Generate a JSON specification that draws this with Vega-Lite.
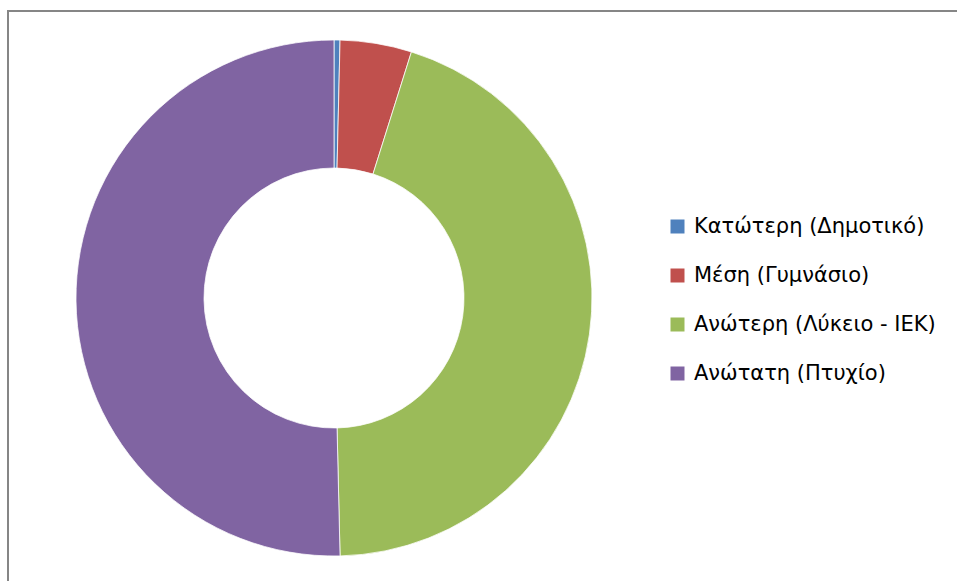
{
  "$schema": "https://vega.github.io/schema/vega-lite/v6.json",
  "padding": {"left": 7, "top": 9, "right": 0, "bottom": 0},
  "background": "white",
  "spacing": 0,
  "bounds": "flush",
  "data": {
    "values": [
      {"level": "Κατώτερη (Δημοτικό)", "count": 1},
      {"level": "Μέση (Γυμνάσιο)", "count": 12},
      {"level": "Ανώτερη (Λύκειο - ΙΕΚ)", "count": 120},
      {"level": "Ανώτατη (Πτυχίο)", "count": 135}
    ]
  },
  "hconcat": [
    {
      "width": 652,
      "height": 574,
      "view": {"stroke": "#868686", "strokeWidth": 2, "strokeDash": [652, 1226, 1000], "fill": "white"},
      "mark": {"type": "arc", "outerRadius": 258, "innerRadius": 130, "stroke": "white", "strokeWidth": 0.75},
      "encoding": {
        "theta": {"field": "count", "type": "quantitative", "stack": true},
        "color": {
          "field": "level",
          "type": "nominal",
          "sort": null,
          "scale": {
            "domain": ["Κατώτερη (Δημοτικό)", "Μέση (Γυμνάσιο)", "Ανώτερη (Λύκειο - ΙΕΚ)", "Ανώτατη (Πτυχίο)"],
            "range": ["#4F81BD", "#C0504D", "#9BBB59", "#8064A2"]
          },
          "legend": {
            "title": null,
            "orient": "none",
            "legendX": 659,
            "legendY": 205,
            "padding": 0,
            "symbolType": "square",
            "symbolSize": 196,
            "symbolStrokeWidth": 0,
            "labelFont": "DejaVu Sans",
            "labelFontSize": 21,
            "labelColor": "#000",
            "labelOffset": 6,
            "rowPadding": 27,
            "labelLimit": 400
          }
        },
        "order": {"field": "count", "type": "quantitative", "sort": "ascending"}
      }
    },
    {
      "width": 298,
      "height": 574,
      "view": {"stroke": "#868686", "strokeWidth": 2, "strokeDash": [299, 5000], "fill": "white"},
      "mark": {"type": "rule", "opacity": 0},
      "encoding": {}
    }
  ]
}
